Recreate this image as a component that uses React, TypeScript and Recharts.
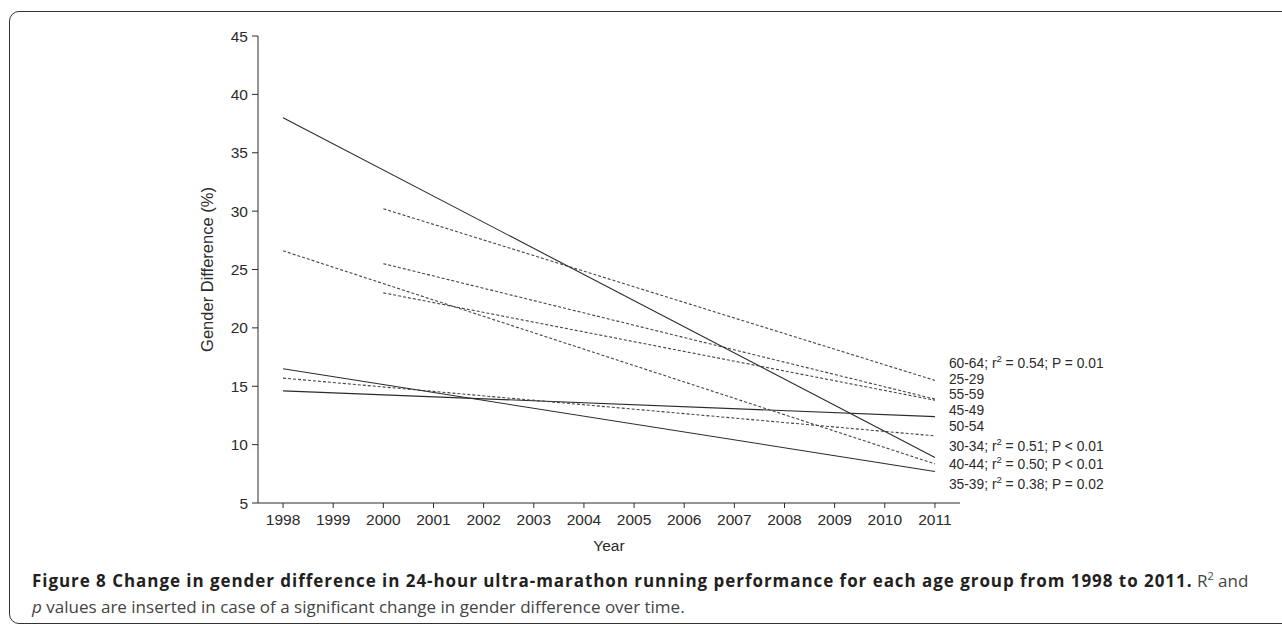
import React from "react";
import { LineChart, Line, XAxis, YAxis } from "recharts";

// years where the trend lines start / end
const years = [1998, 2000, 2011];

// gender difference (%) per age group, fitted trend end points
const g6064 = [null, 30.2, 15.5];
const g2529 = [null, 25.5, 13.9];
const g5559 = [null, 23.0, 13.8];
const g4549 = [14.6, null, 12.4];
const g5054 = [15.7, null, 10.75];
const g3034 = [38.0, null, 8.9];
const g4044 = [26.6, null, 8.35];
const g3539 = [16.5, null, 7.7];

const xTicks = [1998, 1999, 2000, 2001, 2002, 2003, 2004, 2005, 2006, 2007, 2008, 2009, 2010, 2011];
const yTicks = [5, 10, 15, 20, 25, 30, 35, 40, 45];

const series = [
  { key: "60-64", values: g6064, dashed: true, stat: "0.54; P = 0.01", labelY: 363 },
  { key: "25-29", values: g2529, dashed: true, stat: null, labelY: 379 },
  { key: "55-59", values: g5559, dashed: true, stat: null, labelY: 394 },
  { key: "45-49", values: g4549, dashed: false, stat: null, labelY: 410 },
  { key: "50-54", values: g5054, dashed: true, stat: null, labelY: 426 },
  { key: "30-34", values: g3034, dashed: false, stat: "0.51; P < 0.01", labelY: 446 },
  { key: "40-44", values: g4044, dashed: true, stat: "0.50; P < 0.01", labelY: 464 },
  { key: "35-39", values: g3539, dashed: false, stat: "0.38; P = 0.02", labelY: 484 },
];

const data = years.map((year, i) => {
  const row: Record<string, number | null> = { year };
  series.forEach((s) => (row[s.key] = s.values[i]));
  return row;
});

const ink = "#2b2b2b";
const font = "'Liberation Sans', Arial, Helvetica, sans-serif";

function endLabel(s: (typeof series)[number]) {
  return (props: any) => {
    if (props.index !== years.length - 1 || props.x == null) return null;
    const x = props.x + 14;
    return (
      <text x={x} y={s.labelY} dy="0.35em" fontSize={13.8} fill={ink} fontFamily={font}>
        {s.stat ? (
          <>
            <tspan>{s.key}; r</tspan>
            <tspan dy={-6} fontSize={9.5}>2</tspan>
            <tspan dy={6}>{" = " + s.stat}</tspan>
          </>
        ) : (
          s.key
        )}
      </text>
    );
  };
}

export default function App() {
  return (
    <div style={{ position: "absolute", left: 0, top: 0, width: 1282, height: 624, overflow: "hidden", background: "#fff" }}>
      <div
        style={{
          position: "absolute",
          left: 9,
          top: 11,
          width: 1300,
          height: 611,
          border: "1.5px solid #333",
          borderRadius: 10,
        }}
      />
      <div style={{ position: "absolute", left: 0, top: 0 }}>
        <LineChart
          width={1282}
          height={560}
          data={data}
          margin={{ top: 36, right: 322, left: 0, bottom: 0 }}
          style={{ fontFamily: font }}
        >
          <XAxis
            dataKey="year"
            type="number"
            domain={[1997.5, 2011.5]}
            ticks={xTicks}
            interval={0}
            height={57}
            tick={{ fontSize: 15.5, fill: ink }}
            tickSize={5}
            tickMargin={6}
            axisLine={{ stroke: ink }}
            tickLine={{ stroke: ink }}
            label={{
              content: (p: any) => (
                <text x={p.viewBox.x + p.viewBox.width / 2} y={551} textAnchor="middle" fontSize={15.5} fill={ink}>
                  Year
                </text>
              ),
            }}
          />
          <YAxis
            type="number"
            domain={[5, 45]}
            ticks={yTicks}
            interval={0}
            width={258}
            tick={{ fontSize: 15.5, fill: ink }}
            tickSize={6}
            tickMargin={4}
            axisLine={{ stroke: ink }}
            tickLine={{ stroke: ink }}
            label={{
              content: (p: any) => {
                const cy = p.viewBox.y + p.viewBox.height / 2;
                return (
                  <text x={213} y={cy} transform={`rotate(-90 213 ${cy})`} textAnchor="middle" fontSize={16.5} fill={ink}>
                    Gender Difference (%)
                  </text>
                );
              },
            }}
          />
          {series.map((s) => (
            <Line
              key={s.key}
              dataKey={s.key}
              stroke={s.dashed ? "#444" : ink}
              strokeWidth={1.1}
              strokeDasharray={s.dashed ? "3 2" : undefined}
              dot={false}
              connectNulls
              isAnimationActive={false}
              label={endLabel(s)}
            />
          ))}
        </LineChart>
      </div>
      <div
        style={{
          position: "absolute",
          left: 32,
          top: 568,
          fontFamily: "'Open Sans', sans-serif",
          fontSize: 17,
          lineHeight: "26px",
          color: "#444",
          whiteSpace: "nowrap",
        }}
      >
        <span style={{ fontWeight: 700, color: "#231f20", letterSpacing: 0.95 }}>
          Figure 8 Change in gender difference in 24-hour ultra-marathon running performance for each age group from 1998 to 2011.
        </span>{" "}
        R<sup style={{ fontSize: 11, lineHeight: 0 }}>2</sup> and
        <br />
        <i>p</i> values are inserted in case of a significant change in gender difference over time.
      </div>
    </div>
  );
}
